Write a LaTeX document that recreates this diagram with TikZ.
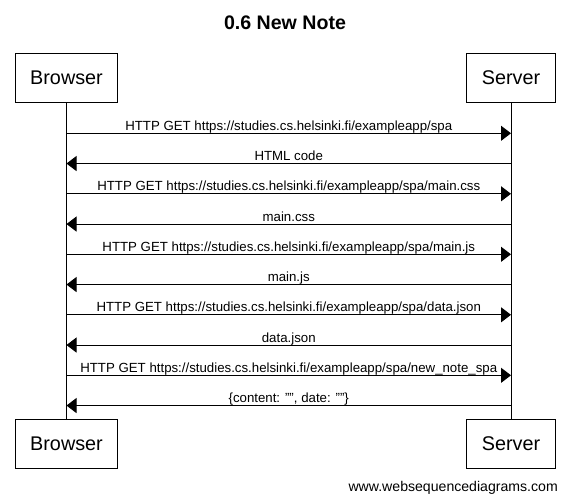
\documentclass[tikz,border=0pt]{standalone}
\usepackage{fontspec}
\setmainfont{Liberation Sans}
\usetikzlibrary{arrows.meta}
\begin{document}
\begin{tikzpicture}[x=1pt,y=-1pt,
  actor/.style={draw,line width=1pt,minimum height=49pt,inner sep=0pt,font=\fontsize{19.8}{22}\selectfont},
  life/.style={line width=1pt},
  msg/.style={line width=1pt,-{Triangle[length=10pt,width=15pt]},shorten >=0pt},
  lbl/.style={anchor=base,yshift=3pt,inner sep=0pt,font=\fontsize{13.25}{15}\selectfont}]
\useasboundingbox (0,0) rectangle (570,502);
\node[font=\bfseries\fontsize{19.6}{22}\selectfont,anchor=base] (title) at (285,30) {0.6 New Note};
\node[actor,minimum width=102pt] (bt) at (66.5,77.7) {Browser};
\node[actor,minimum width=89.5pt] (st) at (511,77.7) {Server};
\node[actor,minimum width=102pt] (bb) at (66.5,443.5) {Browser};
\node[actor,minimum width=89.5pt] (sb) at (511,443.5) {Server};
\draw[life] (bt.south) -- (bb.north);
\draw[life] (st.south) -- (sb.north);
\foreach \i in {1,...,10}{
  \coordinate (b\i) at (66.5,{133.3+(\i-1)*30.25});
  \coordinate (s\i) at (511,{133.3+(\i-1)*30.25});
}
\draw[msg] (b1) -- (s1) node[lbl,midway] {HTTP GET https://studies.cs.helsinki.fi/exampleapp/spa};
\draw[msg] (s2) -- (b2) node[lbl,midway] {HTML code};
\draw[msg] (b3) -- (s3) node[lbl,midway] {HTTP GET https://studies.cs.helsinki.fi/exampleapp/spa/main.css};
\draw[msg] (s4) -- (b4) node[lbl,midway] {main.css};
\draw[msg] (b5) -- (s5) node[lbl,midway] {HTTP GET https://studies.cs.helsinki.fi/exampleapp/spa/main.js};
\draw[msg] (s6) -- (b6) node[lbl,midway] {main.js};
\draw[msg] (b7) -- (s7) node[lbl,midway] {HTTP GET https://studies.cs.helsinki.fi/exampleapp/spa/data.json};
\draw[msg] (s8) -- (b8) node[lbl,midway] {data.json};
\draw[msg] (b9) -- (s9) node[lbl,midway] {HTTP GET https://studies.cs.helsinki.fi/exampleapp/spa/new\_note\_spa};
\draw[msg] (s10) -- (b10) node[lbl,midway] {\{content: "", date: ""\}};
\node[anchor=base east,inner sep=0pt,font=\fontsize{14.1}{16}\selectfont] (foot) at (558,491) {www.websequencediagrams.com};
\end{tikzpicture}
\end{document}
